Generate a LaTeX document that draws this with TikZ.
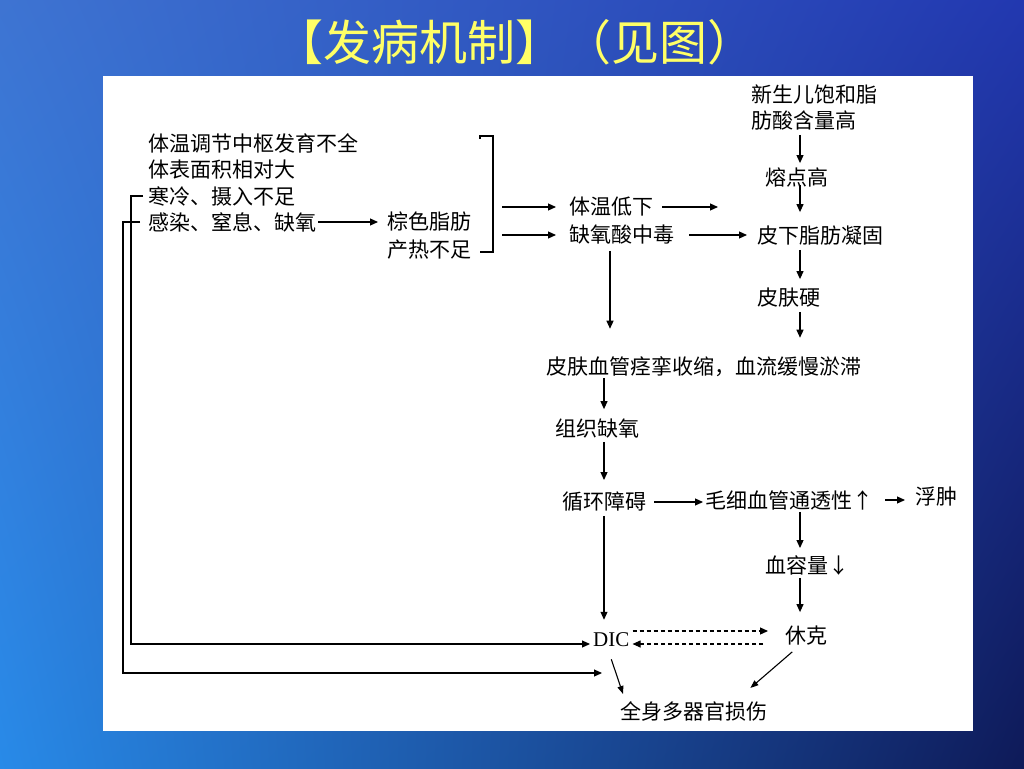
\documentclass[tikz,border=0pt]{standalone}
\usepackage{fontspec}
\setmainfont{Noto Sans CJK SC}
\newfontfamily\latinserif{Liberation Serif}
\usetikzlibrary{arrows.meta,shadings}
\definecolor{bgUL}{RGB}{62,116,210}
\definecolor{bgUR}{RGB}{34,56,176}
\definecolor{bgLL}{RGB}{40,138,232}
\definecolor{bgLR}{RGB}{14,26,88}
\definecolor{titleyellow}{RGB}{255,255,102}
\begin{document}
\begin{tikzpicture}[x=1pt,y=-1pt,
  txt/.style={anchor=west, inner sep=0pt, font=\fontsize{21pt}{23pt}\selectfont},
  arr/.style={-{Triangle[length=8pt,width=7pt]}, line width=1.1pt},
  ln/.style={line width=1.1pt},
  dsh/.style={arr, dash pattern=on 4pt off 3pt}]
\useasboundingbox (0,0) rectangle (1024,768);
\shade[upper left=bgUL, upper right=bgUR, lower left=bgLL, lower right=bgLR] (0,0) rectangle (1024,768);
\fill[white] (103,76) rectangle (973,731);

\node[anchor=center, inner sep=0pt, text=titleyellow, font=\fontsize{48pt}{52pt}\selectfont] (title) at (515,42) {【发病机制】（见图）};

\node[txt] (t1) at (148,143) {体温调节中枢发育不全};
\node[txt] (t2) at (148,170) {体表面积相对大};
\node[txt] (t3) at (148,196) {寒冷、摄入不足};
\node[txt] (t4) at (148,222) {感染、窒息、缺氧};
\node[txt] (zs) at (387,222) {棕色脂肪};
\node[txt] (cr) at (387,250) {产热不足};
\node[txt] (tw) at (569,207) {体温低下};
\node[txt] (qy) at (569,235) {缺氧酸中毒};
\node[txt] (xs1) at (751,94) {新生儿饱和脂};
\node[txt] (xs2) at (751,120) {肪酸含量高};
\node[txt] (rd) at (765,177) {熔点高};
\node[txt] (px) at (757,236) {皮下脂肪凝固};
\node[txt] (pf) at (757,298) {皮肤硬};
\node[txt] (pg) at (546,367) {皮肤血管痉挛收缩，血流缓慢淤滞};
\node[txt] (zz) at (555,428) {组织缺氧};
\node[txt] (xh) at (562,502) {循环障碍};
\node[txt] (mx) at (705,500) {毛细血管通透性↑};
\node[txt] (fz) at (915,497) {浮肿};
\node[txt] (xr) at (765,565) {血容量↓};
\node[txt] (xk) at (785,636) {休克};
\node[txt, font=\latinserif\fontsize{21pt}{23pt}\selectfont] (dic) at (593,640) {DIC};
\node[txt] (qs) at (620,711) {全身多器官损伤};

\coordinate (vR) at (800,0);
\coordinate (vM) at (604,0);
\coordinate (vQ) at (610,0);
\coordinate (l1) at (131,0);
\coordinate (l2) at (123,0);
\coordinate (bx) at (502,0);
\coordinate (e2) at (602,673);
\coordinate (e3) at (718,207);
\coordinate (bt) at (493,136);
\coordinate (bb) at (493,252);

% left feedback lines
\draw[arr, shorten >=3pt] ([xshift=-5pt]t3.west) -- (t3.west -| l1) |- ([yshift=-4pt]dic.west);
\draw[arr] ([xshift=-8pt]t4.west) -- (t4.west -| l2) |- (e2);

\draw[arr, shorten <=2pt, shorten >=9pt] (t4.east) -- (zs.west);

% bracket
\draw[ln] ([shift={(-13pt,-3pt)}]bt) -- ([xshift=-13pt]bt) -- (bt) -- (bb) -- ([xshift=-13pt]bb);
\draw[arr, shorten >=13pt] (bx |- tw.west) -- (tw.west);
\draw[arr, shorten >=13pt] (bx |- qy.west) -- (qy.west);

\draw[arr, shorten <=9pt] (tw.east) -- (e3);
\draw[arr, shorten <=15pt, shorten >=10pt] (qy.east) -- (qy.east -| px.west);

% right column
\draw[arr, shorten <=5pt, shorten >=4pt] (xs2.south -| vR) -- (rd.north -| vR);
\draw[arr, shorten <=-2pt, shorten >=14pt] (rd.south -| vR) -- (px.north -| vR);
\draw[arr, shorten <=4pt, shorten >=9pt] (px.south -| vR) -- (pf.north -| vR);
\draw[arr, shorten <=4pt, shorten >=19pt] (pf.south -| vR) -- (pg.north -| vR);

\draw[arr, shorten <=6pt, shorten >=28pt] (qy.south -| vQ) -- (pg.north -| vQ);

\draw[arr, shorten <=1pt, shorten >=9pt] (pg.south -| vM) -- (zz.north -| vM);
\draw[arr, shorten <=4pt, shorten >=12pt] (zz.south -| vM) -- (xh.north -| vM);
\draw[arr, shorten <=8pt, shorten >=2pt] (xh.east) -- (xh.east -| mx.west);
\draw[arr, shorten <=12pt, shorten >=10pt] (mx.east) -- (mx.east -| fz.west);
\draw[arr, shorten <=2pt, shorten >=7pt] (mx.south -| vR) -- (xr.north -| vR);
\draw[arr, shorten <=3pt, shorten >=14pt] (xr.south -| vR) -- (xk.north -| vR);
\draw[arr, shorten <=4pt, shorten >=13pt] (xh.south -| vM) -- (dic.north -| vM);

% DIC <-> shock
\draw[dsh, shorten <=3pt, shorten >=17pt] ([yshift=9pt]dic.east) -- ([yshift=9pt]dic.east -| xk.west);
\draw[dsh, shorten <=22pt, shorten >=3pt] ([yshift=-4pt]dic.east -| xk.west) -- ([yshift=-4pt]dic.east);

% to organ damage
\draw[ln, -{Triangle[length=8pt,width=6pt]}] ([yshift=-12pt]dic.south) -- ([shift={(3pt,7pt)}]qs.north west);
\draw[ln, -{Triangle[length=8pt,width=6pt]}] ([shift={(-14pt,-6pt)}]xk.south) -- ([shift={(-17pt,13pt)}]qs.north east);
\end{tikzpicture}
\end{document}
